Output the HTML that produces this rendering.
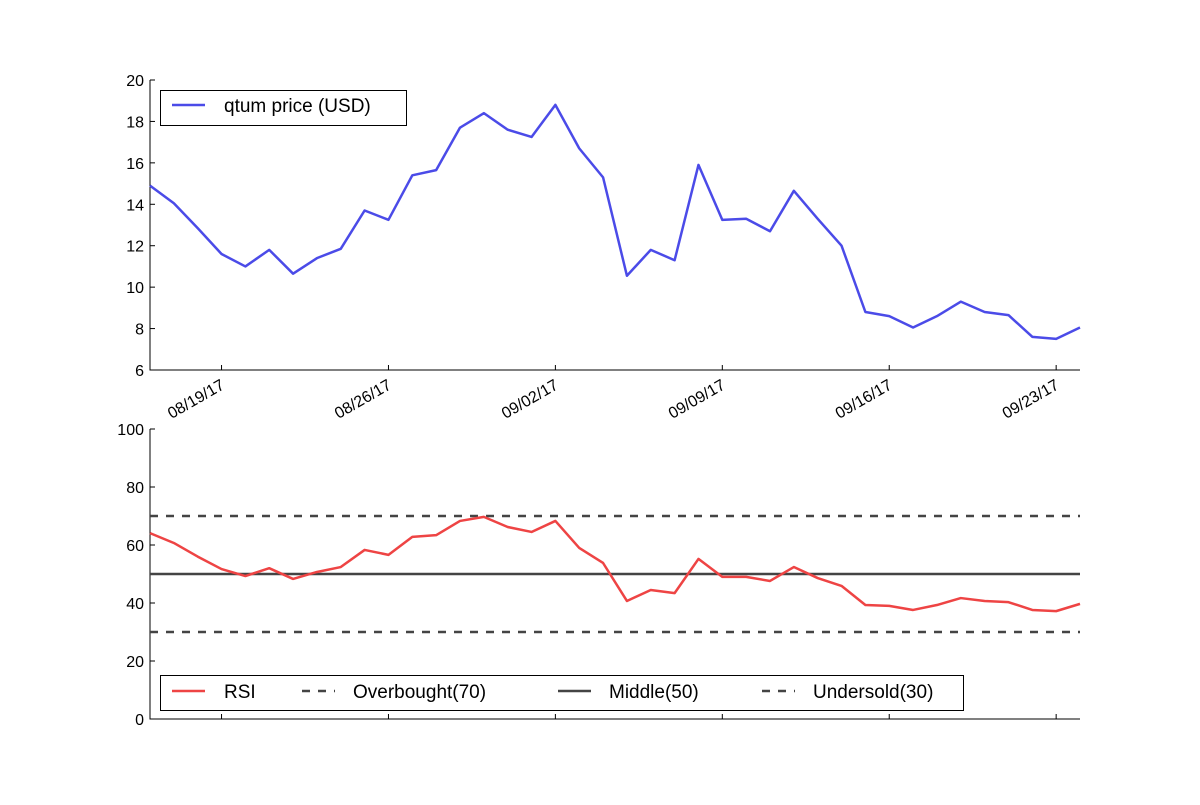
<!DOCTYPE html>
<html><head><meta charset="utf-8"><style>
body{margin:0;background:#fff;}
svg text{font-family:"Liberation Sans","DejaVu Sans",sans-serif;font-size:16px;fill:#000;}
</style></head><body>
<svg id="chart" width="1200" height="800" xmlns="http://www.w3.org/2000/svg">
<rect width="1200" height="800" fill="#fff"/>
<g id="topPanel"></g>
<g id="botPanel"></g>
</svg>
<script>
const startDate = [2017, 7, 16];
const price = [14.9,14.05,12.85,11.6,11.0,11.8,10.65,11.4,11.85,13.7,13.25,15.4,15.65,17.7,18.4,17.6,17.25,18.8,16.7,15.3,10.55,11.8,11.3,15.9,13.25,13.3,12.7,14.65,13.3,12.0,8.8,8.6,8.05,8.6,9.3,8.8,8.65,7.6,7.5,8.05];
const rsi = [64.1,60.7,56,51.7,49.3,52,48.3,50.7,52.4,58.3,56.6,62.8,63.4,68.3,69.7,66.2,64.5,68.3,59,53.8,40.7,44.5,43.4,55.2,49,49,47.6,52.4,48.6,45.9,39.3,39,37.6,39.3,41.7,40.7,40.3,37.6,37.2,39.7];
const priceTicks = [6,8,10,12,14,16,18,20];
const rsiTicks = [0,20,40,60,80,100];
const dateTickIdx = [3,10,17,24,31,38];
const dateTickLabels = ["08/19/17","08/26/17","09/02/17","09/09/17","09/16/17","09/23/17"];
const refLevels = [70,50,30];
const refNames = ["Overbought(70)","Middle(50)","Undersold(30)"];

const NS="http://www.w3.org/2000/svg";
const X0=150,X1=1080;
const xS=i=>X0+(X1-X0)*i/(price.length-1);
const yP=v=>370-(v-6)/(20-6)*290;
const yR=v=>719-v/100*290;
function mk(p,tag,attrs){const e=document.createElementNS(NS,tag);for(const k in attrs)e.setAttribute(k,attrs[k]);p.appendChild(e);return e;}
const topG=document.getElementById('topPanel'),botG=document.getElementById('botPanel');

let e=mk(topG,'path',{d:`M${X0},80V370H${X1}`,fill:'none',stroke:'#000','stroke-width':1});


priceTicks.forEach(v=>{const y=yP(v);
 mk(topG,'line',{x1:X0,x2:X0+5,y1:y,y2:y,stroke:'#000'});
 const t=mk(topG,'text',{x:X0-6,y:y+6,'text-anchor':'end'});t.textContent=v;
 
 });
dateTickIdx.forEach((i,k)=>{const x=xS(i);
 mk(topG,'line',{x1:x,x2:x,y1:370,y2:365,stroke:'#000'});
 const t=mk(topG,'text',{x:x+4,y:388,'text-anchor':'end',transform:`rotate(-30 ${x+4} 388)`});t.textContent=dateTickLabels[k];
 
 });
e=mk(topG,'polyline',{points:price.map((v,i)=>xS(i)+','+yP(v)).join(' '),fill:'none',stroke:'#4b4be8','stroke-width':2.5,'stroke-linejoin':'round'});


let lg=mk(topG,'g',{});


mk(lg,'rect',{x:160.5,y:90.5,width:246,height:35,fill:'#fff',stroke:'#000'});
mk(lg,'line',{x1:172,x2:205,y1:105,y2:105,stroke:'#4b4be8','stroke-width':2.5});
e=mk(lg,'text',{x:224,y:112});e.textContent='qtum price (USD)';e.style.fontSize='19px';

e=mk(botG,'path',{d:`M${X0},429V719H${X1}`,fill:'none',stroke:'#000'});


rsiTicks.forEach(v=>{const y=yR(v);
 mk(botG,'line',{x1:X0,x2:X0+5,y1:y,y2:y,stroke:'#000'});
 const t=mk(botG,'text',{x:X0-6,y:y+6,'text-anchor':'end'});t.textContent=v;
 
 });
dateTickIdx.forEach(i=>{const x=xS(i);mk(botG,'line',{x1:x,x2:x,y1:719,y2:714,stroke:'#000'});});
refLevels.forEach((v,k)=>{const l=mk(botG,'line',{x1:X0,x2:X1,y1:yR(v),y2:yR(v),stroke:'#444','stroke-width':2.5});
 if(v!==50)l.setAttribute('stroke-dasharray','8,8');
 
 });
e=mk(botG,'polyline',{points:rsi.map((v,i)=>xS(i)+','+yR(v)).join(' '),fill:'none',stroke:'#ee4444','stroke-width':2.5,'stroke-linejoin':'round'});


lg=mk(botG,'g',{});


mk(lg,'rect',{x:160.5,y:675.5,width:803,height:35,fill:'#fff',stroke:'#000'});
const ents=[['RSI','#ee4444',null,172,224],[refNames[0],'#444','8,8',302,353],[refNames[1],'#444',null,558,609],[refNames[2],'#444','8,8',762,813]];
ents.forEach(a=>{const l=mk(lg,'line',{x1:a[3],x2:a[3]+33,y1:691,y2:691,stroke:a[1],'stroke-width':2.5});
 if(a[2])l.setAttribute('stroke-dasharray',a[2]);
 const t=mk(lg,'text',{x:a[4],y:698});t.textContent=a[0];t.style.fontSize='19px';
 
 });
</script>
</body></html>
